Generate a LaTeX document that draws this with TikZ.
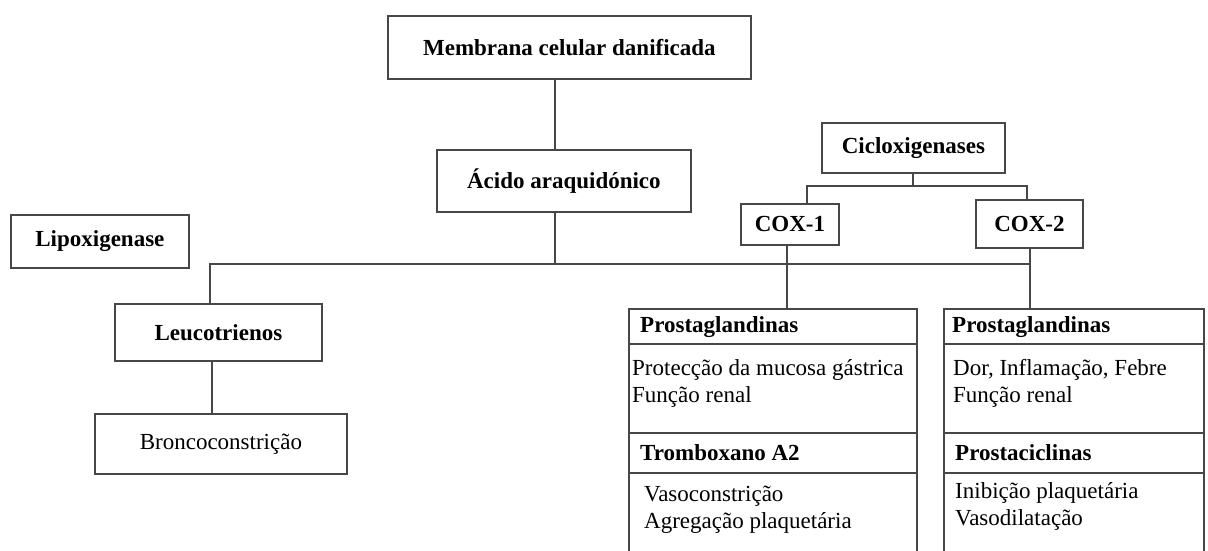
\documentclass[tikz,border=0pt]{standalone}
\usepackage{fontspec}
\setmainfont{Liberation Serif}
\begin{document}
\begin{tikzpicture}[x=1pt,y=-1pt,
  box/.style={draw=black!72, line width=1.8pt, fill=white, inner sep=0pt, anchor=north west},
  ln/.style={draw=black!72, line width=1.8pt},
  bt/.style={font=\bfseries\fontsize{23}{27}\selectfont},
  rtt/.style={font=\fontsize{23}{27}\selectfont},
  hd/.style={font=\bfseries\fontsize{23}{27}\selectfont, anchor=west, inner sep=0pt},
  rt/.style={font=\fontsize{23}{27}\selectfont, align=left, inner sep=0pt, anchor=west},
]
\useasboundingbox (0,0) rectangle (1208,550);
\clip (0,0) rectangle (1208,550);

\node[box, bt, minimum width=363pt, minimum height=63pt] (mem) at (387,15) {Membrana celular danificada};
\node[box, bt, minimum width=254pt, minimum height=62pt] (ac) at (436,149) {Ácido araquidónico};
\node[box, bt, minimum width=178pt, minimum height=53pt] (lip) at (10,214) {Lipoxigenase};
\node[box, bt, minimum width=207pt, minimum height=57pt] (leu) at (114,303) {Leucotrienos};
\node[box, rtt, minimum width=252pt, minimum height=60pt] (bron) at (94,413) {Broncoconstrição};
\node[box, bt, minimum width=183pt, minimum height=50pt] (cic) at (821,122) {Cicloxigenases};
\node[box, bt, minimum width=98pt, minimum height=41pt] (cx1) at (740,203) {COX-1};
\node[box, bt, minimum width=107pt, minimum height=48pt] (cx2) at (975,199) {COX-2};

% left compound box
\node[box, minimum width=288pt, minimum height=35pt] (h1) at (628,308) {};
\node[box, minimum width=288pt, minimum height=89pt] (b1) at (628,343) {};
\node[box, minimum width=288pt, minimum height=40pt] (h2) at (628,432) {};
\node[box, minimum width=288pt, minimum height=110pt] (b2) at (628,472) {};
\node[hd] (th1) at (640,327) {Prostaglandinas};
\node[rt] (tb1) at (632,383.5) {Protecção da mucosa gástrica\\Função renal};
\node[hd] (th2) at (640,453) {Tromboxano A2};
\node[rt] (tb2) at (644,510) {Vasoconstrição\\Agregação plaquetária};

% right compound box
\node[box, minimum width=260pt, minimum height=35pt] (h3) at (943,308) {};
\node[box, minimum width=260pt, minimum height=89pt] (b3) at (943,343) {};
\node[box, minimum width=260pt, minimum height=40pt] (h4) at (943,432) {};
\node[box, minimum width=260pt, minimum height=110pt] (b4) at (943,472) {};
\node[hd] (th3) at (952,327) {Prostaglandinas};
\node[rt] (tb3) at (953,383.5) {Dor, Inflamação, Febre\\Função renal};
\node[hd] (th4) at (955,453) {Prostaciclinas};
\node[rt] (tb4) at (955,506.5) {Inibição plaquetária\\Vasodilatação};

% connectors
\coordinate (j) at (555,264);
\coordinate (jl) at (210,264);
\coordinate (jr) at (1030,264);
\coordinate (cj) at (913,186);
\draw[ln] (mem.south -| j) -- (ac.north -| j);
\draw[ln] (ac.south -| j) -- (j);
\draw[ln] (leu.north -| jl) -- (jl) -- (jr);
\draw[ln] (cx2.south -| jr) -- (h3.north -| jr);
\draw[ln] (cx1.south -| 787,0) -- (h1.north -| 787,0);
\draw[ln] (leu.south -| 212,0) -- (bron.north -| 212,0);
\draw[ln] (cic.south -| cj) -- (cj);
\draw[ln] (cx1.north -| 807,0) |- (cj) -| (cx2.north -| 1027,0);
\end{tikzpicture}
\end{document}
